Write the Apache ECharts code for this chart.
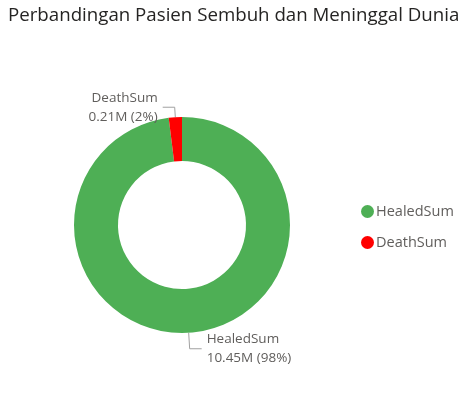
<!DOCTYPE html>
<html><head><meta charset="utf-8">
<script src="https://cdn.jsdelivr.net/npm/echarts@6/dist/echarts.min.js"></script>
<style>html,body{margin:0;padding:0;background:#fff}#c{width:475px;height:416px}</style>
</head><body><div id="c"></div>
<script>
const categories = ['HealedSum', 'DeathSum'];
const valuesM = [10.45, 0.21];
const percents = [98, 2];
const colors = ['#4EAF55', '#FF0000'];
const titleText = 'Perbandingan Pasien Sembuh dan Meninggal Dunia';

const lineLengths = [16, 10];
const chart = echarts.init(document.getElementById('c'), null, {renderer:'canvas'});
chart.setOption({
  animation: false,
  title: {text: titleText, left: 3, top: 1, textStyle:{fontFamily:'Open Sans', fontWeight:'normal', fontSize:18.7, color:'#252423'}},
  legend: {
    orient:'vertical', left: 356, top: 199, itemGap: 16, icon:'circle', itemWidth:13, itemHeight:13,
    textStyle:{fontFamily:'Open Sans', fontSize:14.5, color:'#605E5C', padding:[0,0,0,-3]},
    data: categories
  },
  series: [{
    type:'pie', center:[182,225], radius:[64,108], startAngle:90, clockwise:true,
    data: categories.map((n,i)=>({name:n, value:valuesM[i], itemStyle:{color:colors[i]}, labelLine:{length:lineLengths[i]}})),
    label: {show:true, position:'outside', fontFamily:'Open Sans', fontSize:13.5, color:'#605E5C', lineHeight:19,
      formatter: p => p.name + '\n' + valuesM[p.dataIndex].toFixed(2) + 'M (' + percents[p.dataIndex] + '%)'},
    labelLine: {show:true, length:10, length2:12, lineStyle:{color:'#A0A0A0', width:1}},
    emphasis:{disabled:true}
  }]
});
</script></body></html>
